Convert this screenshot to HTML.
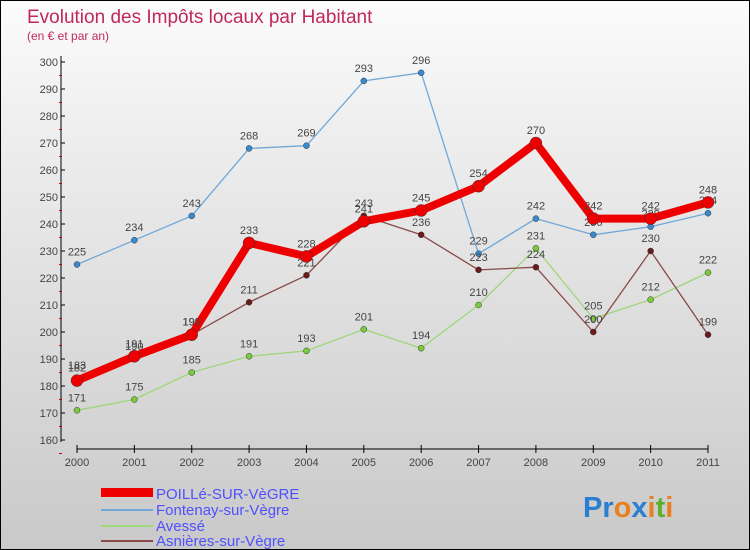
<!DOCTYPE html>
<html><head><meta charset="utf-8"><style>
body{margin:0}
#c{width:750px;height:550px;position:relative;box-sizing:border-box;border:1px solid #000;background:linear-gradient(#fcfcfc,#f0f0f0 20%,#c9c9c9);font-family:"Liberation Sans",sans-serif;overflow:hidden}
</style></head><body>
<div id="c">
<svg id="s" width="750" height="550" style="position:absolute;left:0;top:0">
<text x="26" y="22" font-size="19" fill="#c0285a">Evolution des Impôts locaux par Habitant</text>
<text x="26" y="39" font-size="12" fill="#c0285a">(en € et par an)</text>
<g id="ax"></g><g id="pl"></g>
<g>
<rect x="100" y="487" width="52" height="9" fill="#e00"/>
<text x="155" y="498" font-size="15" fill="#5050ff">POILLé-SUR-VèGRE</text>
<line x1="100" y1="509" x2="152" y2="509" stroke="#6fa8d8" stroke-width="2"/>
<text x="155" y="514" font-size="15" fill="#5050ff">Fontenay-sur-Vègre</text>
<line x1="100" y1="525" x2="152" y2="525" stroke="#9fd67a" stroke-width="2"/>
<text x="155" y="530" font-size="15" fill="#5050ff">Avessé</text>
<line x1="100" y1="540" x2="152" y2="540" stroke="#8a4a4a" stroke-width="2"/>
<text x="155" y="545" font-size="15" fill="#5050ff">Asnières-sur-Vègre</text>
</g>
<text x="582" y="516" font-size="29" font-weight="bold"><tspan fill="#2a7fd0">Pr</tspan><tspan fill="#e88020">o</tspan><tspan fill="#2a7fd0">x</tspan><tspan fill="#e88020">i</tspan><tspan fill="#60b030">t</tspan><tspan fill="#e88020">i</tspan></text>
</svg></div>
<script>
const years=[2000,2001,2002,2003,2004,2005,2006,2007,2008,2009,2010,2011];
const yTicks=[160,170,180,190,200,210,220,230,240,250,260,270,280,290,300];
const poille=[182,191,199,233,228,241,245,254,270,242,242,248];
const fontenay=[225,234,243,268,269,293,296,229,242,236,239,244];
const avesse=[171,175,185,191,193,201,194,210,231,205,212,222];
const asnieres=[183,190,199,211,221,243,236,223,224,200,230,199];
const NS="http://www.w3.org/2000/svg";
const X=i=>76+i*(707-76)/11;
const Y=v=>439-(v-160)*(439-61)/140;
function mk(t,a,p){const e=document.createElementNS(NS,t);for(const k in a)e.setAttribute(k,a[k]);p.appendChild(e);return e;}
const ax=document.getElementById('ax'),pl=document.getElementById('pl');
let e=mk('line',{x1:60,y1:55,x2:60,y2:441,stroke:'#000'},ax);


e=mk('line',{x1:76,y1:448,x2:707,y2:448,stroke:'#000'},ax);


yTicks.forEach(v=>{
 mk('line',{x1:60,x2:64,y1:Y(v),y2:Y(v),stroke:'#000'},ax);
 mk('line',{x1:58,x2:61,y1:Y(v)+13.5,y2:Y(v)+13.5,stroke:'#c00'},ax);
 const t=mk('text',{x:57,y:Y(v)+4,'font-size':11,'text-anchor':'end',fill:'#444'},ax);t.textContent=v;
 
 
});
years.forEach((y,i)=>{
 mk('line',{x1:X(i),x2:X(i),y1:444,y2:452,stroke:'#000'},ax);
 const t=mk('text',{x:X(i),y:465,'font-size':11,'text-anchor':'middle',fill:'#444'},ax);t.textContent=y;
 
 
});
function series(d,col,w,r,dot,name){
 const p=mk('polyline',{points:d.map((v,i)=>X(i)+','+Y(v)).join(' '),fill:'none',stroke:col,'stroke-width':w,'stroke-linejoin':'round'},pl);
 
 
 d.forEach((v,i)=>{
  const c=mk('circle',{cx:X(i),cy:Y(v),r:r,fill:dot,stroke:'#333','stroke-width':0.5},pl);
  
  
  const t=mk('text',{x:X(i),y:Y(v)-9,'font-size':11,'text-anchor':'middle',fill:'#444'},pl);t.textContent=v;
  
  
 });
}
series(fontenay,'#6fa8d8',1.3,3,'#3a8ad0','fontenay');
series(avesse,'#9fd67a',1.3,3,'#7acc3a','avesse');
series(asnieres,'#8a4a4a',1.3,3,'#6a1a1a','asnieres');
series(poille,'#e00',8,6,'#e00','poille');
</script>
</body></html>
